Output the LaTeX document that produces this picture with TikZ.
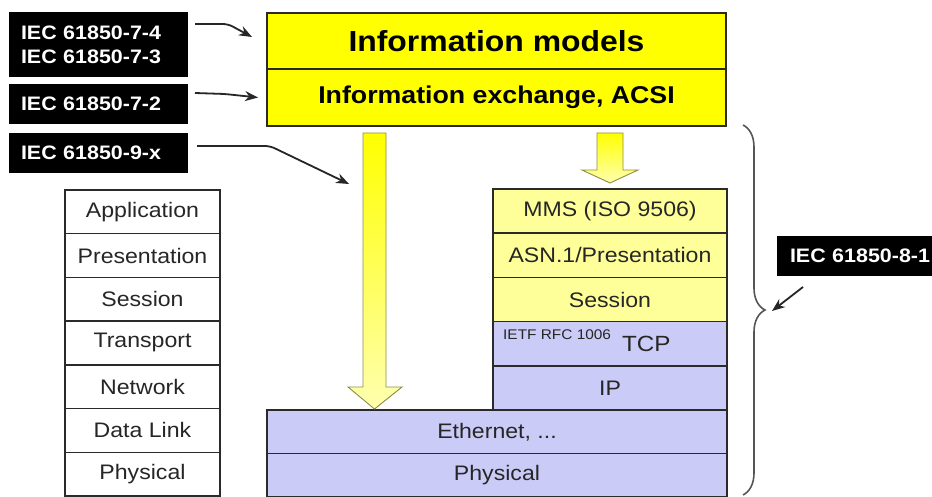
\documentclass[tikz,border=0pt]{standalone}
\usepackage{fontspec}
\setmainfont{Liberation Sans}[FakeStretch=1.1]
\usetikzlibrary{arrows.meta,calc,decorations.pathreplacing}
\definecolor{hiyellow}{HTML}{FFFF00}
\definecolor{paleyellow}{HTML}{FFFF99}
\definecolor{shadeyellow}{HTML}{FFFFB0}
\definecolor{lavender}{HTML}{CBCBF7}
\definecolor{edge}{HTML}{2A2A2A}
\definecolor{txt}{HTML}{262626}
\definecolor{arrowedge}{HTML}{8E8E40}
\definecolor{bracegray}{HTML}{555555}

\begin{document}
\begin{tikzpicture}[x=1pt,y=-1pt,
  layer/.style={draw=edge,line width=1.4pt,inner sep=0pt,outer sep=0pt,
                anchor=north west,text=txt,align=center},
  osi/.style={layer,fill=white,minimum width=155pt,minimum height=43.7pt,
              font=\fontsize{21}{25}\selectfont},
  mmsrow/.style={layer,fill=paleyellow,minimum width=234pt,minimum height=44.2pt,
                 font=\fontsize{21}{25}\selectfont},
  iprow/.style={layer,fill=lavender,minimum width=234pt,minimum height=44.2pt,
                font=\fontsize{21}{25}\selectfont},
  netrow/.style={layer,fill=lavender,minimum width=460pt,minimum height=43.5pt,
                 font=\fontsize{21}{25}\selectfont},
  toprow/.style={layer,fill=hiyellow,minimum width=459pt,text=black},
  stdlabel/.style={fill=black,text=white,anchor=north west,inner ysep=0pt,
                   inner xsep=12pt,outer sep=0pt,align=left,
                   font=\bfseries\fontsize{19.5}{25}\selectfont},
  conn/.style={draw=black!85,line width=1.8pt,rounded corners=5pt,
               -{Stealth[length=13pt,width=10pt]}},
  bigarrow/.style={draw=arrowedge,line width=0.9pt,top color=hiyellow,
                   bottom color=shadeyellow,line join=miter}
]
\useasboundingbox (0,0) rectangle (932,497);
\fill[white] (0,0) rectangle (932,497);

% upper layers
\node[toprow,minimum height=56pt,font=\bfseries\fontsize{29}{34}\selectfont]
  (im) at (267,13) {Information models};
\node[toprow,minimum height=57pt,font=\bfseries\fontsize{24.3}{30}\selectfont]
  (ie) at (267,69) {Information exchange, ACSI};

% OSI reference stack
\node[osi] (app)  at (65,190)   {Application};
\node[osi] (pres) at (65,233.7) {Presentation};
\node[osi] (sess) at (65,277.4) {Session};
\node[osi] (trn)  at (65,321.1) {Transport};
\node[osi] (net)  at (65,364.8) {Network};
\node[osi] (dl)   at (65,408.5) {Data Link};
\node[osi] (phy)  at (65,452.2) {Physical};

% MMS stack
\node[mmsrow] (mms) at (493,189)   {MMS (ISO 9506)};
\node[mmsrow] (asn) at (493,233.2) {ASN.1/Presentation};
\node[mmsrow] (ses) at (493,277.4) {Session};
\node[iprow]  (tcp) at (493,321.6) {};
\node[iprow]  (ip)  at (493,365.8) {IP};
\node[anchor=base west,inner sep=0pt,text=txt,font=\fontsize{14}{16}\selectfont]
  (ietf) at (503,339) {IETF RFC 1006};
\node[anchor=base west,inner sep=0pt,text=txt,font=\fontsize{22}{26}\selectfont]
  (tcpt) at (622,351) {TCP};

% shared lower layers
\node[netrow] (eth)  at (267,410)   {Ethernet, ...};
\node[netrow] (lphy) at (267,453.5) {Physical};

% yellow flow arrows
\path[bigarrow] (363,133) -- (386,133) -- (386,387) -- (402,387)
  -- (374.5,409) -- (348,387) -- (363,387) -- cycle;
\path[bigarrow] (597,133) -- (623,133) -- (623,170) -- (638,170)
  -- (610,183) -- (582,170) -- (597,170) -- cycle;
\coordinate (shaftpt) at (349,184);

% standard labels
\node[stdlabel,text width=155pt,minimum height=65pt] (l1) at (9,12)
  {IEC 61850-7-4\\[-1pt]IEC 61850-7-3};
\node[stdlabel,text width=155pt,minimum height=40pt] (l2) at (9,84) {IEC 61850-7-2};
\node[stdlabel,text width=155pt,minimum height=40pt] (l3) at (9,133) {IEC 61850-9-x};
\node[stdlabel,text width=160pt,inner xsep=13pt,minimum height=40pt] (l4) at (777,236)
  {IEC 61850-8-1};

% brace over the communication stack
\draw[bracegray,line width=1.6pt,decorate,decoration={brace,amplitude=22pt}]
  (743,125) -- (743,495);
\coordinate (bracetip) at (772,311);

% label connectors
\draw[conn] ($(l1.north east)+(7,12)$) -- ++(33,0) -- ($(im.west)+(-15,-4)$);
\draw[conn] ($(l2.north east)+(7,9)$) -- ++(30,1) -- ($(ie.west)+(-9,0)$);
\draw[conn] ($(l3.east)+(9,-7)$) -- ++(73,0) -- (shaftpt);
\draw[conn,rounded corners=0pt] ($(l4.south west)+(26,11)$) -- (bracetip);
\end{tikzpicture}
\end{document}
